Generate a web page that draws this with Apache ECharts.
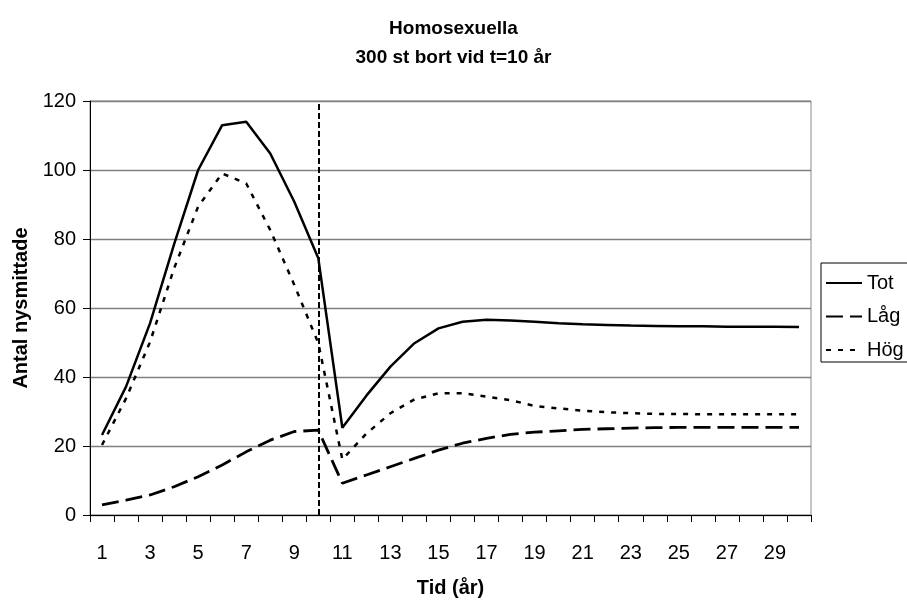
<!DOCTYPE html>
<html>
<head>
<meta charset="utf-8">
<script src="https://cdn.jsdelivr.net/npm/echarts@6/dist/echarts.min.js"></script>
<style>
html,body{margin:0;padding:0;background:#fff;}
#chart{width:907px;height:601px;}
</style>
</head>
<body>
<div id="chart"></div>
<script>
var categories = ['1','2','3','4','5','6','7','8','9','10','11','12','13','14','15','16','17','18','19','20','21','22','23','24','25','26','27','28','29','30'];
var totValues = [23.2, 37.2, 55.6, 78.5, 100, 113, 114, 104.8, 90.8, 74.4, 25.3, 34.6, 43.0, 49.8, 54.1, 56.0, 56.6, 56.4, 56.0, 55.6, 55.3, 55.1, 54.9, 54.8, 54.7, 54.7, 54.6, 54.6, 54.6, 54.5];
var lagValues = [2.9, 4.3, 5.8, 8.2, 11.1, 14.5, 18.3, 21.7, 24.2, 24.6, 9.2, 11.6, 14.0, 16.4, 18.8, 20.8, 22.2, 23.4, 24.0, 24.4, 24.8, 25.0, 25.2, 25.3, 25.4, 25.4, 25.4, 25.4, 25.4, 25.4];
var hogValues = [20.3, 33.8, 50.2, 71.5, 89.4, 99, 96.1, 82.6, 66.7, 49.8, 16.1, 23.6, 29.5, 33.5, 35.3, 35.3, 34.3, 33.3, 31.6, 30.9, 30.2, 29.8, 29.5, 29.3, 29.3, 29.2, 29.2, 29.2, 29.2, 29.2];
var yTicks = {min: 0, max: 120, interval: 20};
var removalYear = '10';

var FONT = '"Liberation Sans", Arial, sans-serif';
var chart = echarts.init(document.getElementById('chart'));
chart.setOption({
  backgroundColor: '#fff',
  animation: false,
  title: {
    text: 'Homosexuella\n300 st bort vid t=10 år',
    left: 'center',
    top: 14,
    padding: 0,
    textStyle: {fontFamily: FONT, fontSize: 19, fontWeight: 'bold', color: '#000', lineHeight: 29}
  },
  legend: {
    orient: 'vertical',
    left: 821,
    top: 263,
    itemWidth: 36,
    itemHeight: 14,
    itemGap: 13.5,
    padding: [10, 5, 2, 4],
    borderColor: '#000',
    borderWidth: 1,
    backgroundColor: '#fff',
    itemStyle: {opacity: 0},
    textStyle: {fontFamily: FONT, fontSize: 20, color: '#000'},
    data: ['Tot', 'Låg', 'Hög']
  },
  grid: {
    left: 90, top: 101, width: 721, height: 414,
    show: true, borderColor: '#888', borderWidth: 1,
    containLabel: false, outerBoundsMode: 'none'
  },
  xAxis: {
    type: 'category',
    data: categories,
    boundaryGap: true,
    name: 'Tid (år)',
    nameLocation: 'middle',
    nameGap: 63,
    nameTextStyle: {fontFamily: FONT, fontSize: 20, fontWeight: 'bold', color: '#000'},
    axisLine: {lineStyle: {color: '#000', width: 1}},
    axisTick: {show: true, interval: 0, length: 7, lineStyle: {color: '#000'}},
    axisLabel: {interval: 1, margin: 28, fontFamily: FONT, fontSize: 20, color: '#000'},
    splitLine: {show: false}
  },
  yAxis: {
    type: 'value',
    min: yTicks.min, max: yTicks.max, interval: yTicks.interval,
    name: 'Antal nysmittade',
    nameLocation: 'middle',
    nameGap: 59,
    nameTextStyle: {fontFamily: FONT, fontSize: 20, fontWeight: 'bold', color: '#000'},
    axisLine: {show: true, lineStyle: {color: '#000', width: 1}},
    axisTick: {show: true, length: 7, lineStyle: {color: '#000'}},
    axisLabel: {margin: 14, fontFamily: FONT, fontSize: 20, color: '#000'},
    splitLine: {show: true, lineStyle: {color: '#808080', width: 1.3}}
  },
  series: [
    {
      name: 'Tot', type: 'line', data: totValues, symbol: 'none',
      lineStyle: {color: '#000', width: 2.5, type: 'solid'},
      itemStyle: {color: '#000'},
      markLine: {
        silent: true, symbol: 'none', label: {show: false},
        lineStyle: {color: '#000', width: 2, type: [6, 3]},
        data: [{xAxis: removalYear}]
      }
    },
    {
      name: 'Låg', type: 'line', data: lagValues, symbol: 'none',
      lineStyle: {color: '#000', width: 2.8, type: [17, 7]},
      itemStyle: {color: '#000'}
    },
    {
      name: 'Hög', type: 'line', data: hogValues, symbol: 'none',
      lineStyle: {color: '#000', width: 2.5, type: [5, 7]},
      itemStyle: {color: '#000'}
    }
  ]
});
</script>
</body>
</html>
